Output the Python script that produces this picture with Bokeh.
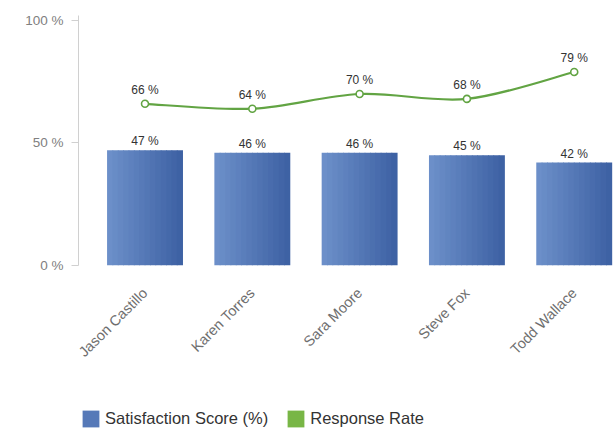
import math
from bokeh.plotting import figure
from bokeh.layouts import column
from bokeh.models import (ColumnDataSource, FixedTicker, Legend, LegendItem, Range1d, LabelSet)
from bokeh.core.properties import value
from bokeh.transform import dodge
from bokeh.embed import file_html
from bokeh.resources import INLINE

names = ["Jason Castillo", "Karen Torres", "Sara Moore", "Steve Fox", "Todd Wallace"]
satisfaction = [47, 46, 46, 45, 42]
response_rate = [66, 64, 70, 68, 79]
y_ticks = [0, 50, 100]
y_tick_labels = ["0 %", "50 %", "100 %"]

FONT = "Liberation Sans"
BAR_LEFT = (108, 143, 201)
BAR_RIGHT = (62, 98, 164)
GREEN = "#62a443"
BAR_WIDTH = 0.70
N_SLICES = 14

xs = list(range(len(names)))

p = figure(width=616, height=395, output_backend="svg", toolbar_location=None,
           x_range=Range1d(-0.62, 4.394), y_range=Range1d(0, 102.04),
           min_border_left=78, min_border_right=0, min_border_top=15, min_border_bottom=130)
p.outline_line_color = None
p.xgrid.visible = False
p.ygrid.visible = False

bar_src = ColumnDataSource(dict(x=xs, top=satisfaction,
                                label=[f"{v} %" for v in satisfaction]))
# horizontal gradient: vertical slices of each bar, light on the left, darker on the right
step = BAR_WIDTH / N_SLICES
for k in range(N_SLICES):
    t = k / (N_SLICES - 1)
    col = "#%02x%02x%02x" % tuple(round(a + (b - a) * t) for a, b in zip(BAR_LEFT, BAR_RIGHT))
    off = -BAR_WIDTH / 2 + step * (k + 0.5)
    p.vbar(x=dodge("x", off, range=p.x_range), top="top", width=step * 1.15,
           source=bar_src, fill_color=col, line_color=None)

# smooth line through the response-rate points (Catmull-Rom as cubic Beziers)
pts = list(zip(xs, response_rate))
bx0, by0, bx1, by1, cx0, cy0, cx1, cy1 = [], [], [], [], [], [], [], []
n = len(pts)
for i in range(n - 1):
    p0 = pts[i - 1] if i > 0 else pts[i]
    p1 = pts[i]
    p2 = pts[i + 1]
    p3 = pts[i + 2] if i + 2 < n else pts[i + 1]
    bx0.append(p1[0]); by0.append(p1[1]); bx1.append(p2[0]); by1.append(p2[1])
    cx0.append(p1[0] + (p2[0] - p0[0]) / 6); cy0.append(p1[1] + (p2[1] - p0[1]) / 6)
    cx1.append(p2[0] - (p3[0] - p1[0]) / 6); cy1.append(p2[1] - (p3[1] - p1[1]) / 6)
p.bezier(x0=bx0, y0=by0, x1=bx1, y1=by1, cx0=cx0, cy0=cy0, cx1=cx1, cy1=cy1,
         line_color=GREEN, line_width=2.2)

line_src = ColumnDataSource(dict(x=xs, y=response_rate,
                                 label=[f"{v} %" for v in response_rate]))
p.scatter(x="x", y="y", source=line_src, size=7, fill_color="white",
          line_color=GREEN, line_width=1.6)

p.add_layout(LabelSet(x="x", y="top", text="label", source=bar_src, text_align="center",
                      text_baseline="bottom", y_offset=2, text_font=value(FONT),
                      text_font_size="12px", text_color="#333333"))
p.add_layout(LabelSet(x="x", y="y", text="label", source=line_src, text_align="center",
                      text_baseline="bottom", y_offset=7, text_font=value(FONT),
                      text_font_size="12px", text_color="#333333"))

# y axis
p.yaxis.ticker = FixedTicker(ticks=y_ticks)
p.yaxis.major_label_overrides = {t: l for t, l in zip(y_ticks, y_tick_labels)}
p.yaxis.axis_line_color = "#d0d0d0"
p.yaxis.major_tick_line_color = "#d0d0d0"
p.yaxis.major_tick_out = 7
p.yaxis.major_tick_in = 0
p.yaxis.minor_tick_line_color = None
p.yaxis.major_label_text_color = "#808080"
p.yaxis.major_label_text_font = FONT
p.yaxis.major_label_text_font_size = "13.5px"
p.yaxis.major_label_standoff = 8

# x axis
p.xaxis.ticker = FixedTicker(ticks=xs)
p.xaxis.major_label_overrides = {x: nm for x, nm in zip(xs, names)}
p.xaxis.axis_line_color = None
p.xaxis.major_tick_line_color = None
p.xaxis.minor_tick_line_color = None
p.xaxis.major_label_orientation = math.pi / 4
p.xaxis.major_label_text_color = "#6e6e6e"
p.xaxis.major_label_text_font = FONT
p.xaxis.major_label_text_font_size = "14.5px"
p.xaxis.major_label_standoff = 19

# legend in its own strip below the chart (its frame is aligned with the chart frame)
lg = figure(width=616, height=34, output_backend="svg", toolbar_location=None,
            x_range=Range1d(0, 1), y_range=Range1d(0, 1),
            min_border=0, min_border_left=0, min_border_right=0, min_border_top=0,
            min_border_bottom=0)
lg.outline_line_color = None
lg.axis.visible = False
lg.grid.visible = False
blue_proxy = lg.vbar(x=[0.5], top=[0], width=0.01, fill_color="#5679b8", line_color=None)
green_proxy = lg.vbar(x=[0.5], top=[0], width=0.01, fill_color="#78b646", line_color=None)
legend = Legend(items=[LegendItem(label="Satisfaction Score (%)", renderers=[blue_proxy]),
                       LegendItem(label="Response Rate", renderers=[green_proxy])],
                orientation="horizontal", location=(2, 0),
                glyph_width=21, glyph_height=21, label_standoff=4, spacing=17,
                padding=0, margin=0, border_line_color=None, background_fill_alpha=0,
                label_text_font=FONT, label_text_font_size="16.5px",
                label_text_color="#333333")
lg.add_layout(legend, "center")

layout = column(p, lg, spacing=0)
open("out.html", "w").write(file_html(layout, INLINE))
